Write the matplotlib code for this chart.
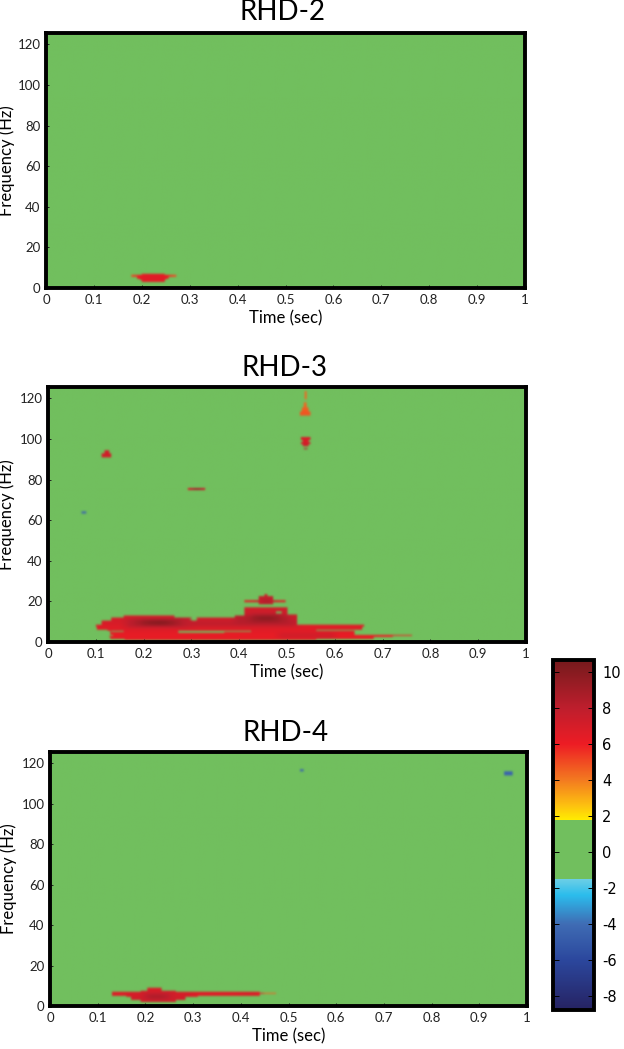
import numpy as np
import matplotlib
matplotlib.use("Agg")
import matplotlib.pyplot as plt
from matplotlib.colors import LinearSegmentedColormap, Normalize
from matplotlib.cm import ScalarMappable

W, H = 624, 1049
plt.rcParams['font.family'] = ['Lato', 'DejaVu Sans']

TITLES = ["RHD-2", "RHD-3", "RHD-4"]
XTICKS = [0, 0.1, 0.2, 0.3, 0.4, 0.5, 0.6, 0.7, 0.8, 0.9, 1]
XLABELS = ["0", "0.1", "0.2", "0.3", "0.4", "0.5", "0.6", "0.7", "0.8", "0.9", "1"]
YTICKS = [0, 20, 40, 60, 80, 100, 120]
CBAR_TICKS = [-8, -6, -4, -2, 0, 2, 4, 6, 8, 10]
VMIN, VMAX = -8.78, 10.67
FMAX = 125.6

# Patches: (t start, t end, f start, f end, value); later ones overwrite
RHD2 = [
    (0.178, 0.205, 5.5, 6.5, 5.0),
    (0.240, 0.272, 5.5, 6.5, 5.0),
    (0.190, 0.255, 4.5, 6.0, 6.3),
    (0.200, 0.247, 3.0, 7.0, 6.3),
    (0.196, 0.250, 4.0, 6.2, 6.6),
]
RHD3 = [
    # low-frequency band
    (0.160, 0.560, 1.0, 1.6, 6.0),
    (0.130, 0.680, 1.6, 2.6, 6.4),
    (0.127, 0.720, 2.6, 3.0, 6.2),
    (0.135, 0.760, 3.0, 3.5, 5.8),
    (0.130, 0.640, 3.5, 5.4, 6.4),
    (0.480, 0.600, 2.0, 4.5, 7.2),
    (0.123, 0.645, 5.4, 6.2, 6.6),
    # mid band
    (0.103, 0.655, 6.2, 7.5, 6.6),
    (0.100, 0.660, 7.5, 8.7, 6.6),
    (0.112, 0.520, 8.7, 10.3, 7.0),
    (0.133, 0.290, 10.3, 12.0, 7.0),
    (0.310, 0.410, 10.3, 12.0, 7.2),
    (0.158, 0.263, 12.0, 12.8, 6.6),
    # upper bumps
    (0.410, 0.520, 10.3, 13.6, 7.2),
    (0.410, 0.500, 13.6, 17.0, 7.3),
    (0.410, 0.495, 19.3, 20.5, 6.5),
    (0.440, 0.470, 18.5, 22.6, 7.8),
    (0.453, 0.458, 22.6, 23.4, 6.0),
    # dark core near 0.23 s
    (0.160, 0.300, 7.0, 11.8, 7.8),
    (0.175, 0.285, 7.5, 11.5, 8.4),
    (0.190, 0.270, 8.0, 11.0, 9.1),
    (0.205, 0.255, 8.5, 10.5, 9.8),
    (0.220, 0.245, 9.0, 10.0, 10.4),
    # dark core near 0.45 s
    (0.300, 0.520, 7.5, 10.3, 7.8),
    (0.390, 0.510, 8.5, 13.0, 8.3),
    (0.420, 0.490, 9.5, 13.4, 9.0),
    (0.435, 0.475, 10.5, 13.0, 9.7),
    (0.450, 0.465, 19.0, 21.0, 8.6),
    # holes inside the bands
    (0.132, 0.158, 4.8, 5.3, 0.0),
    (0.273, 0.368, 4.7, 5.3, 0.0),
    (0.368, 0.425, 4.8, 5.1, 0.0),
    (0.560, 0.645, 5.7, 6.2, 0.0),
    (0.295, 0.312, 10.8, 11.6, 0.0),
    (0.476, 0.487, 13.8, 15.2, 0.0),
    (0.445, 0.473, 17.2, 18.0, 0.0),
    # isolated patches
    (0.113, 0.132, 90.5, 92.5, 7.2),
    (0.118, 0.127, 92.5, 94.0, 7.2),
    (0.293, 0.328, 74.5, 75.5, 6.5),
    (0.303, 0.318, 74.6, 75.4, 10.0),
    (0.526, 0.548, 110.8, 113.0, 4.8),
    (0.530, 0.545, 113.0, 115.0, 4.6),
    (0.534, 0.541, 115.0, 117.6, 4.4),
    (0.535, 0.541, 119.0, 123.0, 4.4),
    (0.528, 0.547, 99.0, 100.5, 7.0),
    (0.532, 0.543, 98.0, 99.0, 6.5),
    (0.527, 0.548, 97.0, 98.0, 7.2),
    (0.531, 0.545, 96.0, 97.0, 7.4),
    (0.534, 0.542, 94.5, 95.2, 8.5),
    (0.070, 0.080, 63.0, 64.0, -4.5),
]
RHD4 = [
    (0.440, 0.475, 6.0, 6.5, 4.5),
    (0.130, 0.440, 5.0, 6.8, 6.8),
    (0.140, 0.400, 5.0, 7.2, 6.6),
    (0.270, 0.310, 4.3, 5.0, 6.0),
    (0.190, 0.265, 2.0, 7.7, 7.0),
    (0.170, 0.285, 3.0, 7.0, 7.2),
    (0.160, 0.300, 4.5, 6.8, 7.0),
    (0.205, 0.235, 7.7, 8.9, 6.8),
    (0.195, 0.255, 3.0, 6.5, 7.8),
    (0.205, 0.245, 3.7, 5.7, 8.6),
    (0.525, 0.532, 115.7, 116.7, -4.5),
    (0.952, 0.970, 113.7, 115.7, -4.5),
]
PANELS = [RHD2, RHD3, RHD4]

# Colormap stops: value, colour
CM_VALUES = [-8.78, -6.0, -4.0, -2.4, -1.5, -1.5, 1.78, 1.78, 2.6, 4.0, 6.0, 8.0, 10.67]
CM_COLORS = ["#262262", "#2B479D", "#3F6CB4", "#2BBCEC", "#6DCFE6", "#71BF5E", "#71BF5E",
             "#FFED00", "#FDC010", "#F37A20", "#ED1C24", "#BE1E2D", "#751A1C"]

AXES_PX = [(46, 33, 525, 288), (48, 387, 526, 642), (50, 752, 527, 1006)]
TITLE_PAD = [9, 8, 8]
YLABEL_X_PX = [15, 15, 17]
CBAR_PX = (553, 660, 594, 1010)


def px_rect(box):
    x0, y0, x1, y1 = box
    return [x0 / W, 1 - y1 / H, (x1 - x0) / W, (y1 - y0) / H]


def conv(a, k, axis):
    return np.apply_along_axis(lambda v: np.convolve(v, k, mode='same'), axis, a)


def grid_from(patches, dt=0.002, df=0.5):
    nt, nf = int(round(1 / dt)), int(round(FMAX / df))
    z = np.zeros((nf, nt))
    for t0, t1, f0, f1, v in patches:
        i0, j0 = int(round(f0 / df)), int(round(t0 / dt))
        z[i0:max(int(round(f1 / df)), i0 + 1), j0:max(int(round(t1 / dt)), j0 + 1)] = v
    # soften steps between patches without widening them into the background
    mask = (z != 0).astype(float)
    num, den = z.copy(), mask.copy()
    for axis, r in ((1, 5), (0, 2)):
        k = np.ones(2 * r + 1)
        num, den = conv(num, k, axis), conv(den, k, axis)
    out = np.zeros_like(z)
    out[mask > 0] = num[mask > 0] / den[mask > 0]
    return out


def soft_rgba(z):
    # the reference is a slightly soft raster: blur the coloured image a little
    rgb = np.pad(cmap(norm(z))[:, :, :3], ((4, 4), (4, 4), (0, 0)), mode='edge')
    k = np.array([1, 4, 6, 4, 1]) / 16
    for axis in (0, 1):
        rgb = np.stack([conv(rgb[:, :, c], k, axis) for c in range(3)], axis=2)
    return rgb[4:-4, 4:-4]


stops = [(v - VMIN) / (VMAX - VMIN) for v in CM_VALUES]
cmap = LinearSegmentedColormap.from_list("rhd", list(zip(stops, CM_COLORS)), N=1024)
norm = Normalize(VMIN, VMAX)

fig = plt.figure(figsize=(W / 100, H / 100), dpi=100)
for title, patches, box, pad, ylx in zip(TITLES, PANELS, AXES_PX, TITLE_PAD, YLABEL_X_PX):
    ax = fig.add_axes(px_rect(box))
    ax.imshow(soft_rgba(grid_from(patches)), origin='lower', extent=(0, 1, 0, FMAX),
              aspect='auto', interpolation='bilinear')
    ax.set_xticks(XTICKS, XLABELS)
    ax.set_yticks(YTICKS)
    ax.tick_params(direction='in', length=2.5, width=0.7, labelsize=9.5, pad=4, colors='#222222')
    for s in ax.spines.values():
        s.set_linewidth(2.8)
    ax.set_xlabel("Time (sec)", fontsize=12, labelpad=3.5)
    ax.set_ylabel("Frequency (Hz)", fontsize=12)
    ax.yaxis.set_label_coords((ylx - box[0]) / (box[2] - box[0]), 0.5)
    ax.set_title(title, fontsize=20, pad=pad, x=0.494)

cax = fig.add_axes(px_rect(CBAR_PX))
cb = fig.colorbar(ScalarMappable(norm=norm, cmap=cmap), cax=cax)
cb.set_ticks(CBAR_TICKS)
cb.ax.set_yticklabels([str(t) for t in CBAR_TICKS], family=['DejaVu Sans'])
cb.ax.tick_params(direction='in', length=4, width=0.7, labelsize=10.5, pad=6,
                  left=True, right=True)
cb.outline.set_linewidth(2.8)
fig.savefig("out.png", dpi=100)
